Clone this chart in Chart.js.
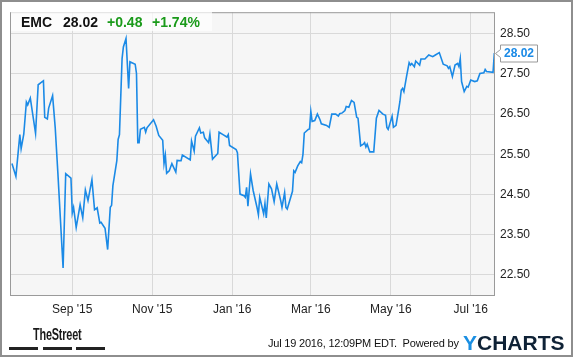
<!DOCTYPE html>
<html>
<head>
<meta charset="utf-8">
<script src="https://cdn.jsdelivr.net/npm/chart.js@4/dist/chart.umd.min.js"></script>
<style>
  html, body { margin: 0; padding: 0; background: #fff; }
  body { width: 575px; height: 358px; position: relative; overflow: hidden; font-family: "Liberation Sans", Arial, sans-serif; }
  #frame { position: absolute; left: 0; top: 0; width: 573px; height: 357px; box-sizing: border-box; border: 2px solid #8e8e8e; pointer-events: none; }
  #chart { position: absolute; left: 0; top: 0; }
  #hdr { position: absolute; left: 11px; top: 11px; width: 201px; height: 20px; background: rgba(255,255,255,0.7); }
  .h { position: absolute; top: 4px; font: bold 14px "Liberation Sans", Arial, sans-serif; line-height: 15px; white-space: nowrap; }
  .blk { color: #111; }
  .grn { color: #1a9a1a; }
  #ts { position: absolute; left: 33px; top: 325px; font: bold 17px "Liberation Sans", Arial, sans-serif; line-height: 19px; color: #1a1a1a; transform: scaleX(0.64); transform-origin: 0 0; white-space: nowrap; letter-spacing: -0.3px; }
  .bar { position: absolute; top: 347px; height: 3px; background: #222; }
  #stamp { position: absolute; left: 268px; top: 337px; font: 11px "Liberation Sans", Arial, sans-serif; line-height: 13px; color: #111; white-space: nowrap; letter-spacing: -0.2px; }
  #yc { position: absolute; left: 463px; top: 331px; font: bold 21px "Liberation Sans", Arial, sans-serif; line-height: 23px; color: #0f2236; white-space: nowrap; }
  #yc span { color: #1a8fe3; }
</style>
</head>
<body>
<canvas id="chart" width="575" height="358"></canvas>
<div id="hdr">
  <span class="h blk" style="left:10px">EMC</span>
  <span class="h blk" id="hp" style="left:52px"></span>
  <span class="h grn" id="hc" style="left:96px"></span>
  <span class="h grn" id="hpc" style="left:141px"></span>
</div>
<div id="ts">TheStreet</div>
<div class="bar" style="left:9px;width:29px"></div>
<div class="bar" style="left:43px;width:29px"></div>
<div class="bar" style="left:76px;width:29px"></div>
<div id="stamp">Jul 19 2016, 12:09PM EDT.&nbsp; Powered by</div>
<div id="yc"><span>Y</span>CHARTS</div>
<div id="frame"></div>
<script>
// ---- data ----
const symbol = "EMC";
const lastPrice = 28.02;
const change = 0.48;
const changePct = 1.74;

const dates = [
  "2015-07-17","2015-07-20","2015-07-23","2015-07-24","2015-07-26","2015-07-28","2015-07-29","2015-07-31",
  "2015-08-04","2015-08-06","2015-08-10","2015-08-11","2015-08-13","2015-08-14","2015-08-17","2015-08-19",
  "2015-08-21","2015-08-25","2015-08-27","2015-08-31","2015-09-01","2015-09-02","2015-09-04","2015-09-07",
  "2015-09-09","2015-09-11","2015-09-13","2015-09-16","2015-09-18","2015-09-20","2015-09-22","2015-09-23",
  "2015-09-26","2015-09-28","2015-09-30","2015-10-01","2015-10-02","2015-10-05","2015-10-06","2015-10-07",
  "2015-10-09","2015-10-10","2015-10-12","2015-10-14","2015-10-15","2015-10-19","2015-10-20","2015-10-21",
  "2015-10-22","2015-10-23","2015-10-26","2015-10-27","2015-10-28","2015-11-02","2015-11-04","2015-11-06",
  "2015-11-09","2015-11-10","2015-11-11","2015-11-12","2015-11-14","2015-11-16","2015-11-19","2015-11-20",
  "2015-11-23","2015-11-24","2015-11-30","2015-12-01","2015-12-03","2015-12-04","2015-12-07","2015-12-08",
  "2015-12-10","2015-12-11","2015-12-14","2015-12-15","2015-12-17","2015-12-21","2015-12-22","2015-12-25",
  "2015-12-28","2015-12-29","2015-12-30","2016-01-04","2016-01-05","2016-01-07","2016-01-10","2016-01-11",
  "2016-01-12","2016-01-13","2016-01-15","2016-01-17","2016-01-20","2016-01-21","2016-01-22","2016-01-25",
  "2016-01-26","2016-01-27","2016-01-29","2016-01-31","2016-02-02","2016-02-04","2016-02-07","2016-02-08",
  "2016-02-10","2016-02-11","2016-02-12","2016-02-16","2016-02-17","2016-02-18","2016-02-20","2016-02-22",
  "2016-02-23","2016-02-24","2016-02-25","2016-02-28","2016-02-29","2016-03-01","2016-03-02","2016-03-04",
  "2016-03-06","2016-03-08","2016-03-09","2016-03-13","2016-03-15","2016-03-17","2016-03-20","2016-03-22",
  "2016-03-23","2016-03-25","2016-03-27","2016-03-28","2016-03-30","2016-04-01","2016-04-03","2016-04-05",
  "2016-04-06","2016-04-08","2016-04-10","2016-04-11","2016-04-12","2016-04-13","2016-04-15","2016-04-18",
  "2016-04-20","2016-04-22","2016-04-25","2016-04-27","2016-04-28","2016-04-29","2016-05-02","2016-05-03",
  "2016-05-05","2016-05-07","2016-05-08","2016-05-09","2016-05-10","2016-05-11","2016-05-13","2016-05-15",
  "2016-05-16","2016-05-17","2016-05-19","2016-05-20","2016-05-23","2016-05-24","2016-05-27","2016-05-30",
  "2016-06-02","2016-06-04","2016-06-07","2016-06-10","2016-06-13","2016-06-14","2016-06-15","2016-06-17",
  "2016-06-19","2016-06-21","2016-06-22","2016-06-23","2016-06-24","2016-06-26","2016-06-28","2016-06-29",
  "2016-07-01","2016-07-04","2016-07-06","2016-07-08","2016-07-11","2016-07-12","2016-07-13","2016-07-18",
  "2016-07-19"
];

const prices = [
  25.27,24.95,25.99,25.64,26.00,26.80,26.73,26.90,
  26.02,27.23,27.33,26.42,26.38,26.65,26.96,26.16,
  25.05,22.67,25.02,24.91,24.04,24.18,23.68,24.25,
  23.92,24.61,24.35,24.87,24.12,24.17,23.79,23.81,
  23.66,23.13,24.18,24.23,24.72,25.34,25.87,25.99,
  27.88,28.17,28.38,27.14,27.80,27.74,27.51,25.79,
  25.79,26.12,26.17,26.05,26.16,26.36,26.20,25.97,
  25.85,25.27,25.48,25.03,25.09,25.27,25.06,25.35,
  25.34,25.48,25.36,25.83,25.58,25.95,26.16,26.03,
  26.05,25.91,25.79,26.00,25.38,25.52,26.05,25.99,
  25.93,25.99,25.72,25.62,25.54,24.51,24.47,24.43,
  24.68,24.21,25.01,24.60,24.17,24.00,24.43,24.02,
  24.28,23.92,24.76,24.64,24.32,24.76,24.35,24.18,
  24.55,24.18,24.14,24.58,25.09,25.05,25.21,25.32,
  25.29,25.50,26.03,26.12,26.13,26.57,26.32,26.34,
  26.50,26.36,26.26,26.22,26.17,26.50,26.50,26.45,
  26.51,26.53,26.59,26.69,26.67,26.84,26.79,26.42,
  26.40,25.71,25.75,25.79,25.68,25.75,25.56,25.56,
  26.40,26.59,26.50,26.47,26.17,26.12,26.45,26.17,
  26.22,26.61,26.82,27.10,27.14,27.06,27.43,27.78,
  27.72,27.76,27.68,27.82,27.72,27.87,27.87,27.97,
  27.93,27.97,28.03,27.74,27.70,27.64,27.68,27.43,
  27.72,27.76,27.68,27.88,27.31,27.06,27.19,27.17,
  27.35,27.31,27.33,27.51,27.53,27.61,27.56,27.54,
  28.02
];

const xTickDates  = ["2015-09-01","2015-11-01","2016-01-01","2016-03-01","2016-05-01","2016-07-01"];
const xTickLabels = ["Sep '15","Nov '15","Jan '16","Mar '16","May '16","Jul '16"];
const yTickValues = [22.5, 23.5, 24.5, 25.5, 26.5, 27.5, 28.5];
const rangeStart = "2015-07-16";
const rangeEnd = "2016-07-19";

// ---- helpers ----
const toDay = s => Date.UTC(+s.slice(0,4), +s.slice(5,7)-1, +s.slice(8,10)) / 86400000;
const points = dates.map((d, i) => ({ x: toDay(d), y: prices[i] }));
const xTicks = xTickDates.map(toDay);

document.getElementById('hp').textContent = lastPrice.toFixed(2);
document.getElementById('hc').textContent = (change >= 0 ? '+' : '') + change.toFixed(2);
document.getElementById('hpc').textContent = (changePct >= 0 ? '+' : '') + changePct.toFixed(2) + '%';

const LINE = '#1b8ae6';

const framePlugin = {
  id: 'framePlugin',
  beforeDraw(chart) {
    const a = chart.chartArea, c = chart.ctx;
    c.save();
    c.fillStyle = '#f6f6f6';
    c.fillRect(a.left, a.top, a.right - a.left, a.bottom - a.top);
    c.restore();
  },
  afterDraw(chart) {
    const a = chart.chartArea, c = chart.ctx;
    c.save();
    c.strokeStyle = '#9a9a9a';
    c.lineWidth = 1;
    c.strokeRect(a.left + 0.5, a.top + 0.5, a.right - a.left - 1, a.bottom - a.top);
    // last value tag
    const ys = chart.scales.y;
    const yy = Math.round(ys.getPixelForValue(prices[prices.length - 1]));
    const bx = a.right + 5, bw = 37, bh = 17, by = yy - 8.5;
    c.fillStyle = '#ffffff';
    c.strokeStyle = '#999999';
    c.beginPath();
    c.moveTo(bx + 0.5, by + 0.5);
    c.lineTo(bx + bw + 0.5, by + 0.5);
    c.lineTo(bx + bw + 0.5, by + bh + 0.5);
    c.lineTo(bx + 0.5, by + bh + 0.5);
    c.lineTo(bx + 0.5, yy + 4.5);
    c.lineTo(a.right + 0.5, yy + 0.5);
    c.lineTo(bx + 0.5, yy - 3.5);
    c.closePath();
    c.fill();
    c.stroke();
    c.fillStyle = LINE;
    c.font = 'bold 12px "Liberation Sans", Arial, sans-serif';
    c.textAlign = 'center';
    c.textBaseline = 'middle';
    c.fillText(prices[prices.length - 1].toFixed(2), bx + bw / 2 + 0.5, yy + 1);
    c.restore();
  }
};

new Chart(document.getElementById('chart'), {
  type: 'line',
  data: {
    datasets: [{
      data: points,
      borderColor: LINE,
      borderWidth: 1.6,
      pointRadius: 0,
      tension: 0,
      fill: false
    }]
  },
  options: {
    responsive: false,
    animation: false,
    devicePixelRatio: 1,
    layout: { padding: { left: 10, top: 10, right: 0, bottom: 0 } },
    plugins: { legend: { display: false }, tooltip: { enabled: false } },
    scales: {
      x: {
        type: 'linear',
        min: toDay(rangeStart) - 0.5,
        max: toDay(rangeEnd) + 0.5,
        afterBuildTicks: s => { s.ticks = xTicks.map(v => ({ value: v })); },
        afterFit: s => { s.height = 63; },
        grid: { color: '#d9d9d9', drawTicks: false },
        border: { display: false },
        ticks: {
          autoSkip: false, maxRotation: 0, padding: 7,
          color: '#222', font: { size: 12, family: '"Liberation Sans", Arial, sans-serif' },
          callback: v => { const i = xTicks.indexOf(v); return i >= 0 ? xTickLabels[i] : ''; }
        }
      },
      y: {
        position: 'right',
        min: 22.0,
        max: 29.035,
        afterBuildTicks: s => { s.ticks = yTickValues.map(v => ({ value: v })); },
        afterFit: s => { s.width = 80; },
        grid: { color: '#d9d9d9', drawTicks: false },
        border: { display: false },
        ticks: {
          padding: 5,
          color: '#222', font: { size: 12, family: '"Liberation Sans", Arial, sans-serif' },
          callback: v => Number(v).toFixed(2)
        }
      }
    }
  },
  plugins: [framePlugin]
});
</script>
</body>
</html>
